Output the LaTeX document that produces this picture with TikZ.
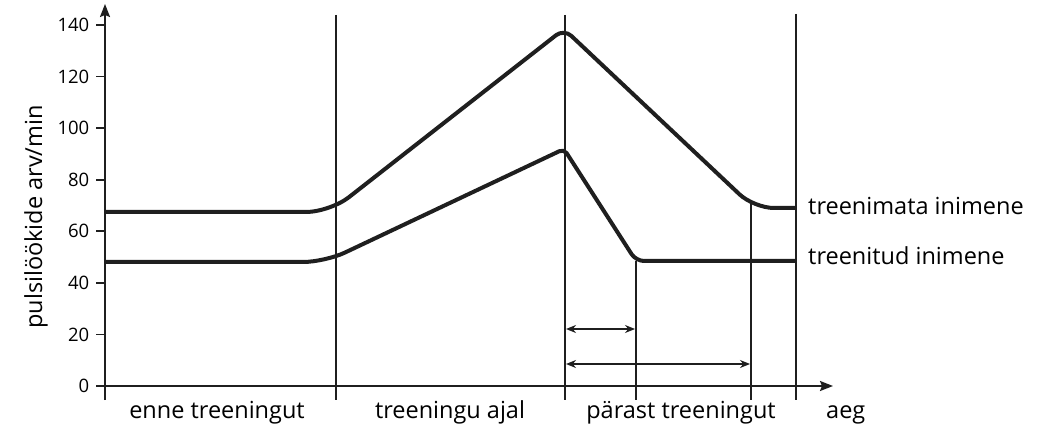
\documentclass[tikz,border=0pt]{standalone}
\usepackage{fontspec}
\setmainfont{Open Sans}
\usetikzlibrary{arrows.meta}
\begin{document}
\begin{tikzpicture}[x=1pt,y=-1pt,
  thinline/.style={line width=1.8pt,draw=black!88},
  curve/.style={line width=4pt,draw=black!88,line join=round},
  ticklab/.style={anchor=east,inner sep=0pt,font=\fontsize{18.5}{18.5}\selectfont},
  lab/.style={inner sep=0pt,font=\fontsize{23.5}{23.5}\selectfont},
  dimarrow/.style={line width=1.6pt,draw=black!88,{Stealth[length=10pt,width=8pt]}-{Stealth[length=10pt,width=8pt]}}]
\useasboundingbox (0,0) rectangle (1056,427);
% ticks and labels
\foreach \v in {0,20,...,140}{
  \pgfmathsetmacro{\yy}{386-\v*2.5786}
  \draw[thinline] (96,\yy) -- (105,\yy);
  \node[ticklab] (t\v) at (89.5,\yy) {\v};
}
% axes
\coordinate (yb) at (105,400);
\coordinate (yt) at (105,4);
\coordinate (xl) at (96,386);
\coordinate (xr) at (833,386);
\draw[thinline,-{Stealth[length=13pt,width=10pt,inset=2pt]}] (yb) -- (yt);
\draw[thinline,-{Stealth[length=13pt,width=10pt,inset=2pt]}] (xl) -- (xr);
% vertical lines
\coordinate (v1t) at (336,15); \coordinate (v1b) at (336,400);
\coordinate (v2t) at (565,15); \coordinate (v2b) at (565,400);
\coordinate (v5t) at (796,14); \coordinate (v5b) at (796,400);
\coordinate (v3t) at (636,261); \coordinate (v3b) at (636,400);
\coordinate (v4t) at (751,203); \coordinate (v4b) at (751,400);
\draw[thinline] (v1t) -- (v1b);
\draw[thinline] (v2t) -- (v2b);
\draw[thinline] (v5t) -- (v5b);
\draw[thinline] (v3t) -- (v3b);
\draw[thinline] (v4t) -- (v4b);
% curves
\draw[curve] (105,212) [rounded corners=24pt] -- (330,212) [rounded corners=10pt] -- (564,29) [rounded corners=20pt] -- (754,208) [sharp corners] -- (796,208);
\draw[curve] (105,262) [rounded corners=22pt] -- (325,262) [rounded corners=5pt] -- (564,149) [rounded corners=8pt] -- (636,261) [sharp corners] -- (796,261);
% dimension arrows
\coordinate (a1l) at (566,329); \coordinate (a1r) at (635,329);
\coordinate (a2l) at (566,364); \coordinate (a2r) at (750,364);
\draw[dimarrow] (a1l) -- (a1r);
\draw[dimarrow] (a2l) -- (a2r);
% labels
\node[lab,anchor=base] (l1) at (217,418) {enne treeningut};
\node[lab,anchor=base] (l2) at (450,418) {treeningu ajal};
\node[lab,anchor=base] (l3) at (681,418) {pärast treeningut};
\node[lab,anchor=base west] (l4) at (826,418) {aeg};
\node[lab,anchor=west] (l5) at (808,206) {treenimata inimene};
\node[lab,anchor=west] (l6) at (808,256) {treenitud inimene};
\node[lab,rotate=90] (l7) at (36,217) {pulsilöökide arv/min};
\end{tikzpicture}
\end{document}
